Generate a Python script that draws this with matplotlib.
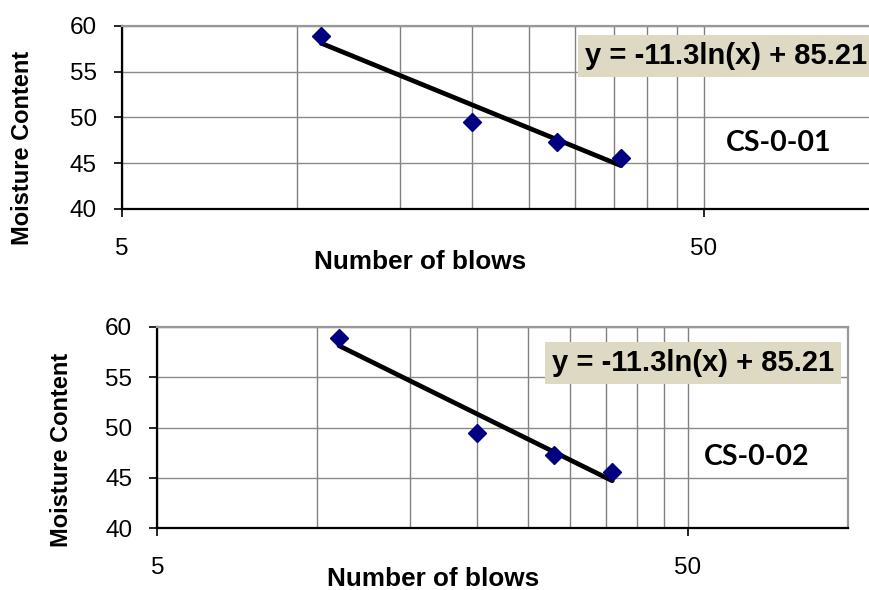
import matplotlib
matplotlib.use('Agg')
import matplotlib.pyplot as plt
import numpy as np

# data (same for both samples)
blows = [11, 20, 28, 36]
moisture_01 = [58.9, 49.5, 47.3, 45.6]
moisture_02 = [58.9, 49.5, 47.3, 45.6]
slope, intercept = -11.3, 85.21
eq_text = 'y = -11.3ln(x) + 85.21'
x_ticks = [5, 50]
x_grid = [10, 15, 20, 25, 30, 35, 40, 45]
y_ticks = [40, 45, 50, 55, 60]

W, H = 869, 590
fig = plt.figure(figsize=(W / 100, H / 100), dpi=100)
plt.rcParams['font.family'] = ['Liberation Sans', 'DejaVu Sans']


def px(x0, y0, x1, y1):
    # pixel box -> figure fraction rect
    return [x0 / W, 1 - y1 / H, (x1 - x0) / W, (y1 - y0) / H]


def panel(rect, moist, label, eq_pos, lab_pos):
    ax = fig.add_axes(rect)
    ax.set_xscale('log')
    ax.set_xlim(5, 100)
    ax.set_ylim(40, 60)

    ax.set_xticks(x_ticks)
    ax.set_xticklabels([str(t) for t in x_ticks])
    ax.set_xticks(x_grid, minor=True)
    ax.set_xticklabels([], minor=True)
    ax.set_yticks(y_ticks)
    ax.tick_params(axis='x', which='major', length=6, width=1.2, pad=15, labelsize=17.5)
    ax.tick_params(axis='x', which='minor', length=0)
    ax.tick_params(axis='y', length=6, width=1.2, labelsize=17.5, pad=12)
    ax.grid(True, which='both', axis='x', color='#808080', lw=1)
    ax.grid(True, which='major', axis='y', color='#8a8a8a', lw=1)
    ax.set_axisbelow(True)

    for s in ['top', 'right']:
        ax.spines[s].set_color('#999999')
        ax.spines[s].set_linewidth(1.6)
    for s in ['left', 'bottom']:
        ax.spines[s].set_color('black')
        ax.spines[s].set_linewidth(1.6)

    xs = np.linspace(min(blows), max(blows), 50)
    ax.plot(xs, slope * np.log(xs) + intercept, color='black', lw=3.4,
            solid_capstyle='round', zorder=3)
    ax.plot(blows, moist, 'D', color='#000080', markersize=9.5, zorder=4)

    ax.text(eq_pos[0], eq_pos[1], eq_text, transform=ax.transAxes,
            fontsize=21, fontweight='bold', va='center', ha='left',
            bbox=dict(facecolor='#DDD9C3', edgecolor='none', pad=5))
    ax.text(lab_pos[0], lab_pos[1], label, transform=ax.transAxes,
            fontsize=20.5, fontweight='bold', va='center', ha='center',
            family=['Lato', 'DejaVu Sans'])
    return ax


panel(px(122, 26, 879, 208.7), moisture_01, 'CS-0-01', (0.612, 0.836), (0.868, 0.36))
panel(px(157.3, 326.7, 847.7, 528.3), moisture_02, 'CS-0-02', (0.572, 0.82), (0.8686, 0.355))

fig.text(420 / W, 1 - 262 / H, 'Number of blows', fontsize=18.8, fontweight='bold',
         ha='center', va='center')
fig.text(433 / W, 1 - 579 / H, 'Number of blows', fontsize=18.8, fontweight='bold',
         ha='center', va='center')
fig.text(23 / W, 1 - 148 / H, 'Moisture Content', fontsize=17, fontweight='bold',
         ha='center', va='center', rotation=90)
fig.text(62 / W, 1 - 450 / H, 'Moisture Content', fontsize=17, fontweight='bold',
         ha='center', va='center', rotation=90)

fig.savefig('out.png', dpi=100)
